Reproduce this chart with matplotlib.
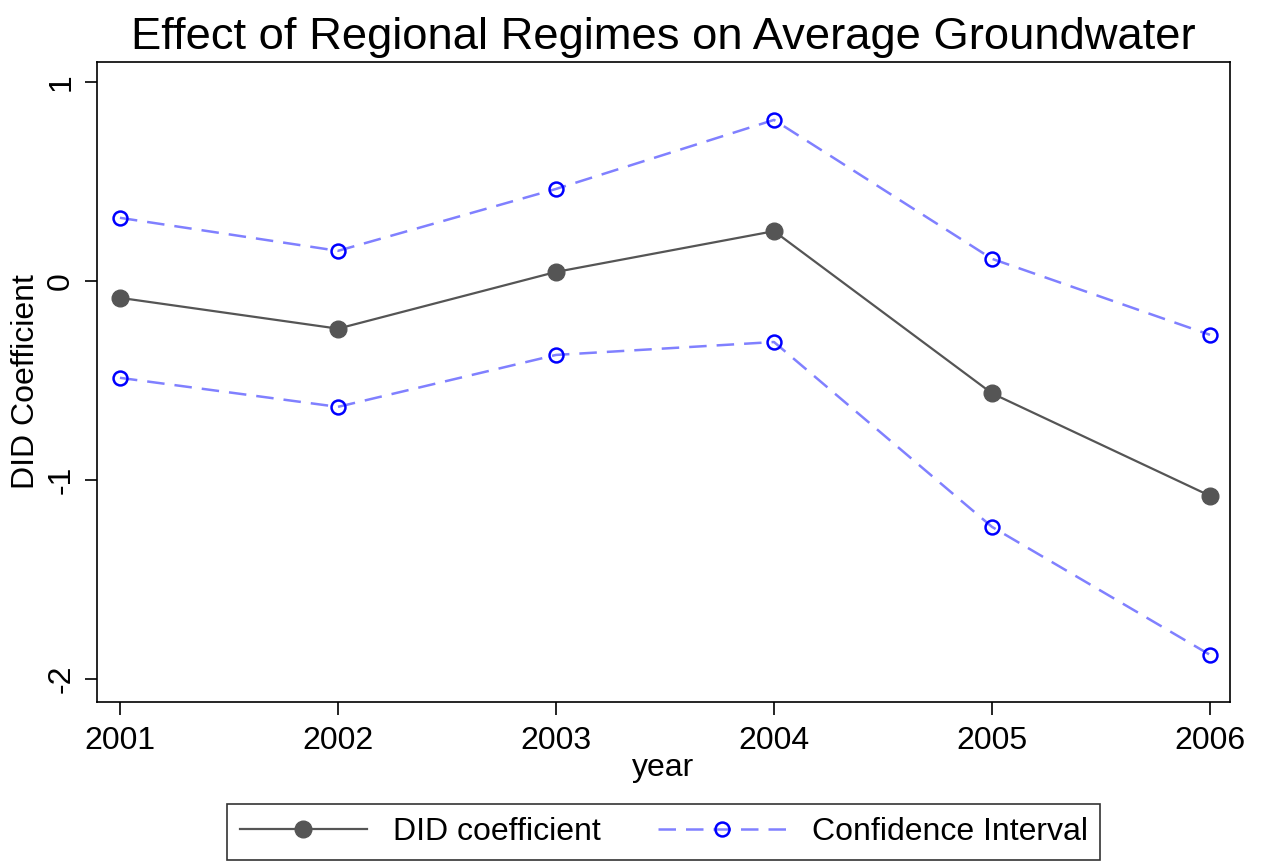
import matplotlib.pyplot as plt

plt.rcParams['font.family'] = ['Liberation Sans', 'DejaVu Sans']

years = [2001, 2002, 2003, 2004, 2005, 2006]
did_coef = [-0.085, -0.24, 0.045, 0.25, -0.565, -1.08]
ci_upper = [0.317, 0.151, 0.462, 0.809, 0.111, -0.271]
ci_lower = [-0.487, -0.633, -0.372, -0.307, -1.236, -1.879]

fig = plt.figure(figsize=(12.62, 8.67), dpi=100)
ax = fig.add_axes([0.0769, 0.1903, 0.8978, 0.7382])

ax.plot(years, did_coef, color='#555555', lw=1.6, marker='o', ms=12,
        label='DID coefficient', zorder=3)
ax.plot(years, ci_upper, color='#8080ff', lw=1.8, dashes=(7, 4), marker='o', ms=10,
        mfc='none', mec='#0000ff', mew=1.8, label='Confidence Interval')
ax.plot(years, ci_lower, color='#8080ff', lw=1.8, dashes=(7, 4), marker='o', ms=10,
        mfc='none', mec='#0000ff', mew=1.8)

ax.set_xlim(2000.895, 2006.092)
ax.set_ylim(-2.116, 1.10)
ax.set_xticks(years)
ax.set_yticks([-2, -1, 0, 1])
ax.set_yticklabels(['-2', '-1', '0', '1'], rotation=90, va='center')
ax.tick_params(axis='both', labelsize=23, length=9, width=1.2)
ax.tick_params(axis='x', pad=8)
ax.tick_params(axis='y', pad=6)
for s in ax.spines.values():
    s.set_linewidth(1.2)

ax.set_title('Effect of Regional Regimes on Average Groundwater', fontsize=32.7, pad=9)
ax.set_xlabel('year', fontsize=23, labelpad=-2)
ax.set_ylabel('DID Coefficient', fontsize=23, labelpad=4)

leg = ax.legend(loc='upper center', bbox_to_anchor=(0.5, -0.16), ncol=2,
                fontsize=23, frameon=True, fancybox=False, edgecolor='black',
                handlelength=4.0, columnspacing=1.8, borderpad=0.4, borderaxespad=0)
leg.get_frame().set_linewidth(1.2)

plt.savefig('out.png', dpi=100)
